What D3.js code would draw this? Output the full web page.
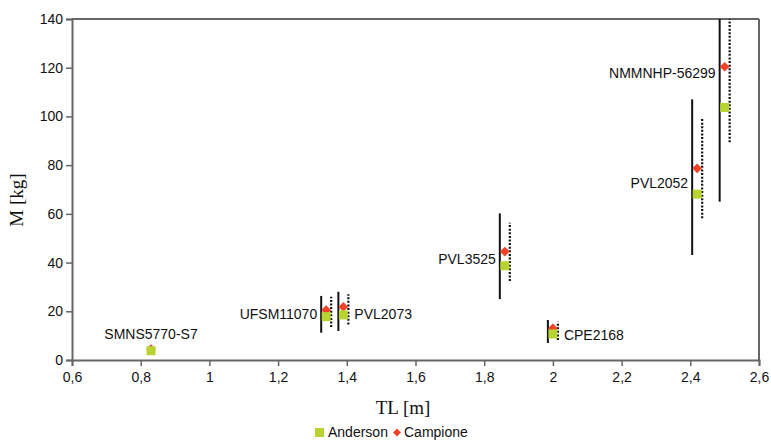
<!DOCTYPE html>
<html><head><meta charset="utf-8">
<script src="https://cdn.jsdelivr.net/npm/d3@7"></script>
<style>body{margin:0;background:#fff}svg{display:block}</style>
</head><body><svg id="c" width="771" height="440"></svg>
<script>
const specimens = ["SMNS5770-S7","UFSM11070","PVL2073","PVL3525","CPE2168","PVL2052","NMMNHP-56299"];
const tl = [0.83,1.34,1.39,1.86,2.0,2.42,2.5];
const anderson = [3.8,17.8,18.5,38.7,10.7,68.1,103.7];
const campione = [4.5,20.5,21.8,44.5,13.0,78.7,120.4];
const andersonLow = [null,11.2,11.9,25.0,7.0,43.1,65.0];
const andersonHigh = [null,26.3,28.0,60.2,16.4,107.0,140];
const campioneLow = [null,13.5,14.6,32.4,8.2,58.2,89.4];
const campioneHigh = [null,26.0,27.0,56.4,15.7,99.0,140];
const labelAt = [10.7,18.9,18.9,41.5,10.3,72.8,117.7];
const labelSide = ["top","left","right","left","right","left","left"];
const xTicks = [0.6,0.8,1,1.2,1.4,1.6,1.8,2,2.2,2.4,2.6];
const yTicks = [0,20,40,60,80,100,120,140];

const svg = d3.select("#c");
const L=72,R=759,T=19,B=360;
const x = d3.scaleLinear().domain([0.6,2.6]).range([L,R]);
const y = d3.scaleLinear().domain([0,140]).range([B,T]);
const font = "'Liberation Sans', Arial, sans-serif";
const serif = "'Liberation Serif', 'Times New Roman', serif";
const axisCol = "#666";

svg.append("line").attr("x1",L).attr("x2",R).attr("y1",T).attr("y2",T).attr("stroke",axisCol).attr("stroke-width",2);
svg.append("line").attr("x1",R).attr("x2",R).attr("y1",T).attr("y2",B).attr("stroke",axisCol).attr("stroke-width",2);

const fmt = d => String(d).replace(".",",");
const gx = svg.append("g").attr("transform",`translate(0,${B})`)
  .call(d3.axisBottom(x).tickValues(xTicks).tickFormat(fmt).tickSize(6).tickPadding(6));
const gy = svg.append("g").attr("transform",`translate(${L},0)`)
  .call(d3.axisLeft(y).tickValues(yTicks).tickSize(6).tickPadding(3));
[gx,gy].forEach(g=>{
  g.select(".domain").attr("stroke",axisCol).attr("stroke-width",2);
  g.selectAll(".tick line").attr("stroke",axisCol).attr("stroke-width",1.5);
  g.selectAll("text").attr("font-family",font).attr("font-size",14).attr("fill","#111");
});

const idx = d3.range(specimens.length).filter(i=>andersonLow[i]!==null);
const ox = 5;
svg.selectAll(".sol").data(idx).enter().append("line")
  .attr("x1",i=>x(tl[i])-ox).attr("x2",i=>x(tl[i])-ox)
  .attr("y1",i=>y(andersonLow[i])).attr("y2",i=>y(andersonHigh[i]))
  .attr("stroke","#111").attr("stroke-width",2);
svg.selectAll(".dot").data(idx).enter().append("line")
  .attr("x1",i=>x(tl[i])+ox).attr("x2",i=>x(tl[i])+ox)
  .attr("y1",i=>y(campioneLow[i])).attr("y2",i=>y(campioneHigh[i]))
  .attr("stroke","#111").attr("stroke-width",2.2).attr("stroke-dasharray","2,1.6");

const green="#b8d430", red="#ef4226";
const all = d3.range(specimens.length);
svg.selectAll(".dia").data(all).enter().append("path")
  .attr("d",d3.symbol(d3.symbolDiamond2,60)())
  .attr("transform",i=>`translate(${x(tl[i])},${y(campione[i])})`)
  .attr("fill",red);
svg.selectAll(".sq").data(all).enter().append("rect")
  .attr("x",i=>x(tl[i])-4.5).attr("y",i=>y(anderson[i])-4.5)
  .attr("width",9).attr("height",9).attr("fill",green);

svg.selectAll(".lab").data(all).enter().append("text")
  .attr("font-family",font).attr("font-size",14).attr("fill","#111")
  .attr("text-anchor",i=>labelSide[i]==="left"?"end":labelSide[i]==="right"?"start":"middle")
  .attr("x",i=>labelSide[i]==="left"?x(tl[i])-ox-4:labelSide[i]==="right"?x(tl[i])+ox+6:x(tl[i]))
  .attr("y",i=>y(labelAt[i]))
  .attr("dy","0.35em")
  .text(i=>specimens[i]);

svg.append("text").attr("x",403).attr("y",414).attr("text-anchor","middle")
  .attr("font-family",serif).attr("font-size",19).attr("fill","#111").text("TL [m]");
svg.append("text").attr("transform","translate(23,200) rotate(-90)").attr("text-anchor","middle")
  .attr("font-family",serif).attr("font-size",19).attr("fill","#111").text("M [kg]");

const lg = svg.append("g");
const ly = 432.5;
lg.append("rect").attr("x",315).attr("y",ly-4.5).attr("width",9).attr("height",9).attr("fill",green);
lg.append("text").attr("x",328).attr("y",ly).attr("dy","0.35em").attr("font-family",font).attr("font-size",14).attr("fill","#111").text("Anderson");
lg.append("path").attr("d",d3.symbol(d3.symbolDiamond2,40)()).attr("transform",`translate(397,${ly})`).attr("fill",red);
lg.append("text").attr("x",404).attr("y",ly).attr("dy","0.35em").attr("font-family",font).attr("font-size",14).attr("fill","#111").text("Campione");
</script></body></html>
